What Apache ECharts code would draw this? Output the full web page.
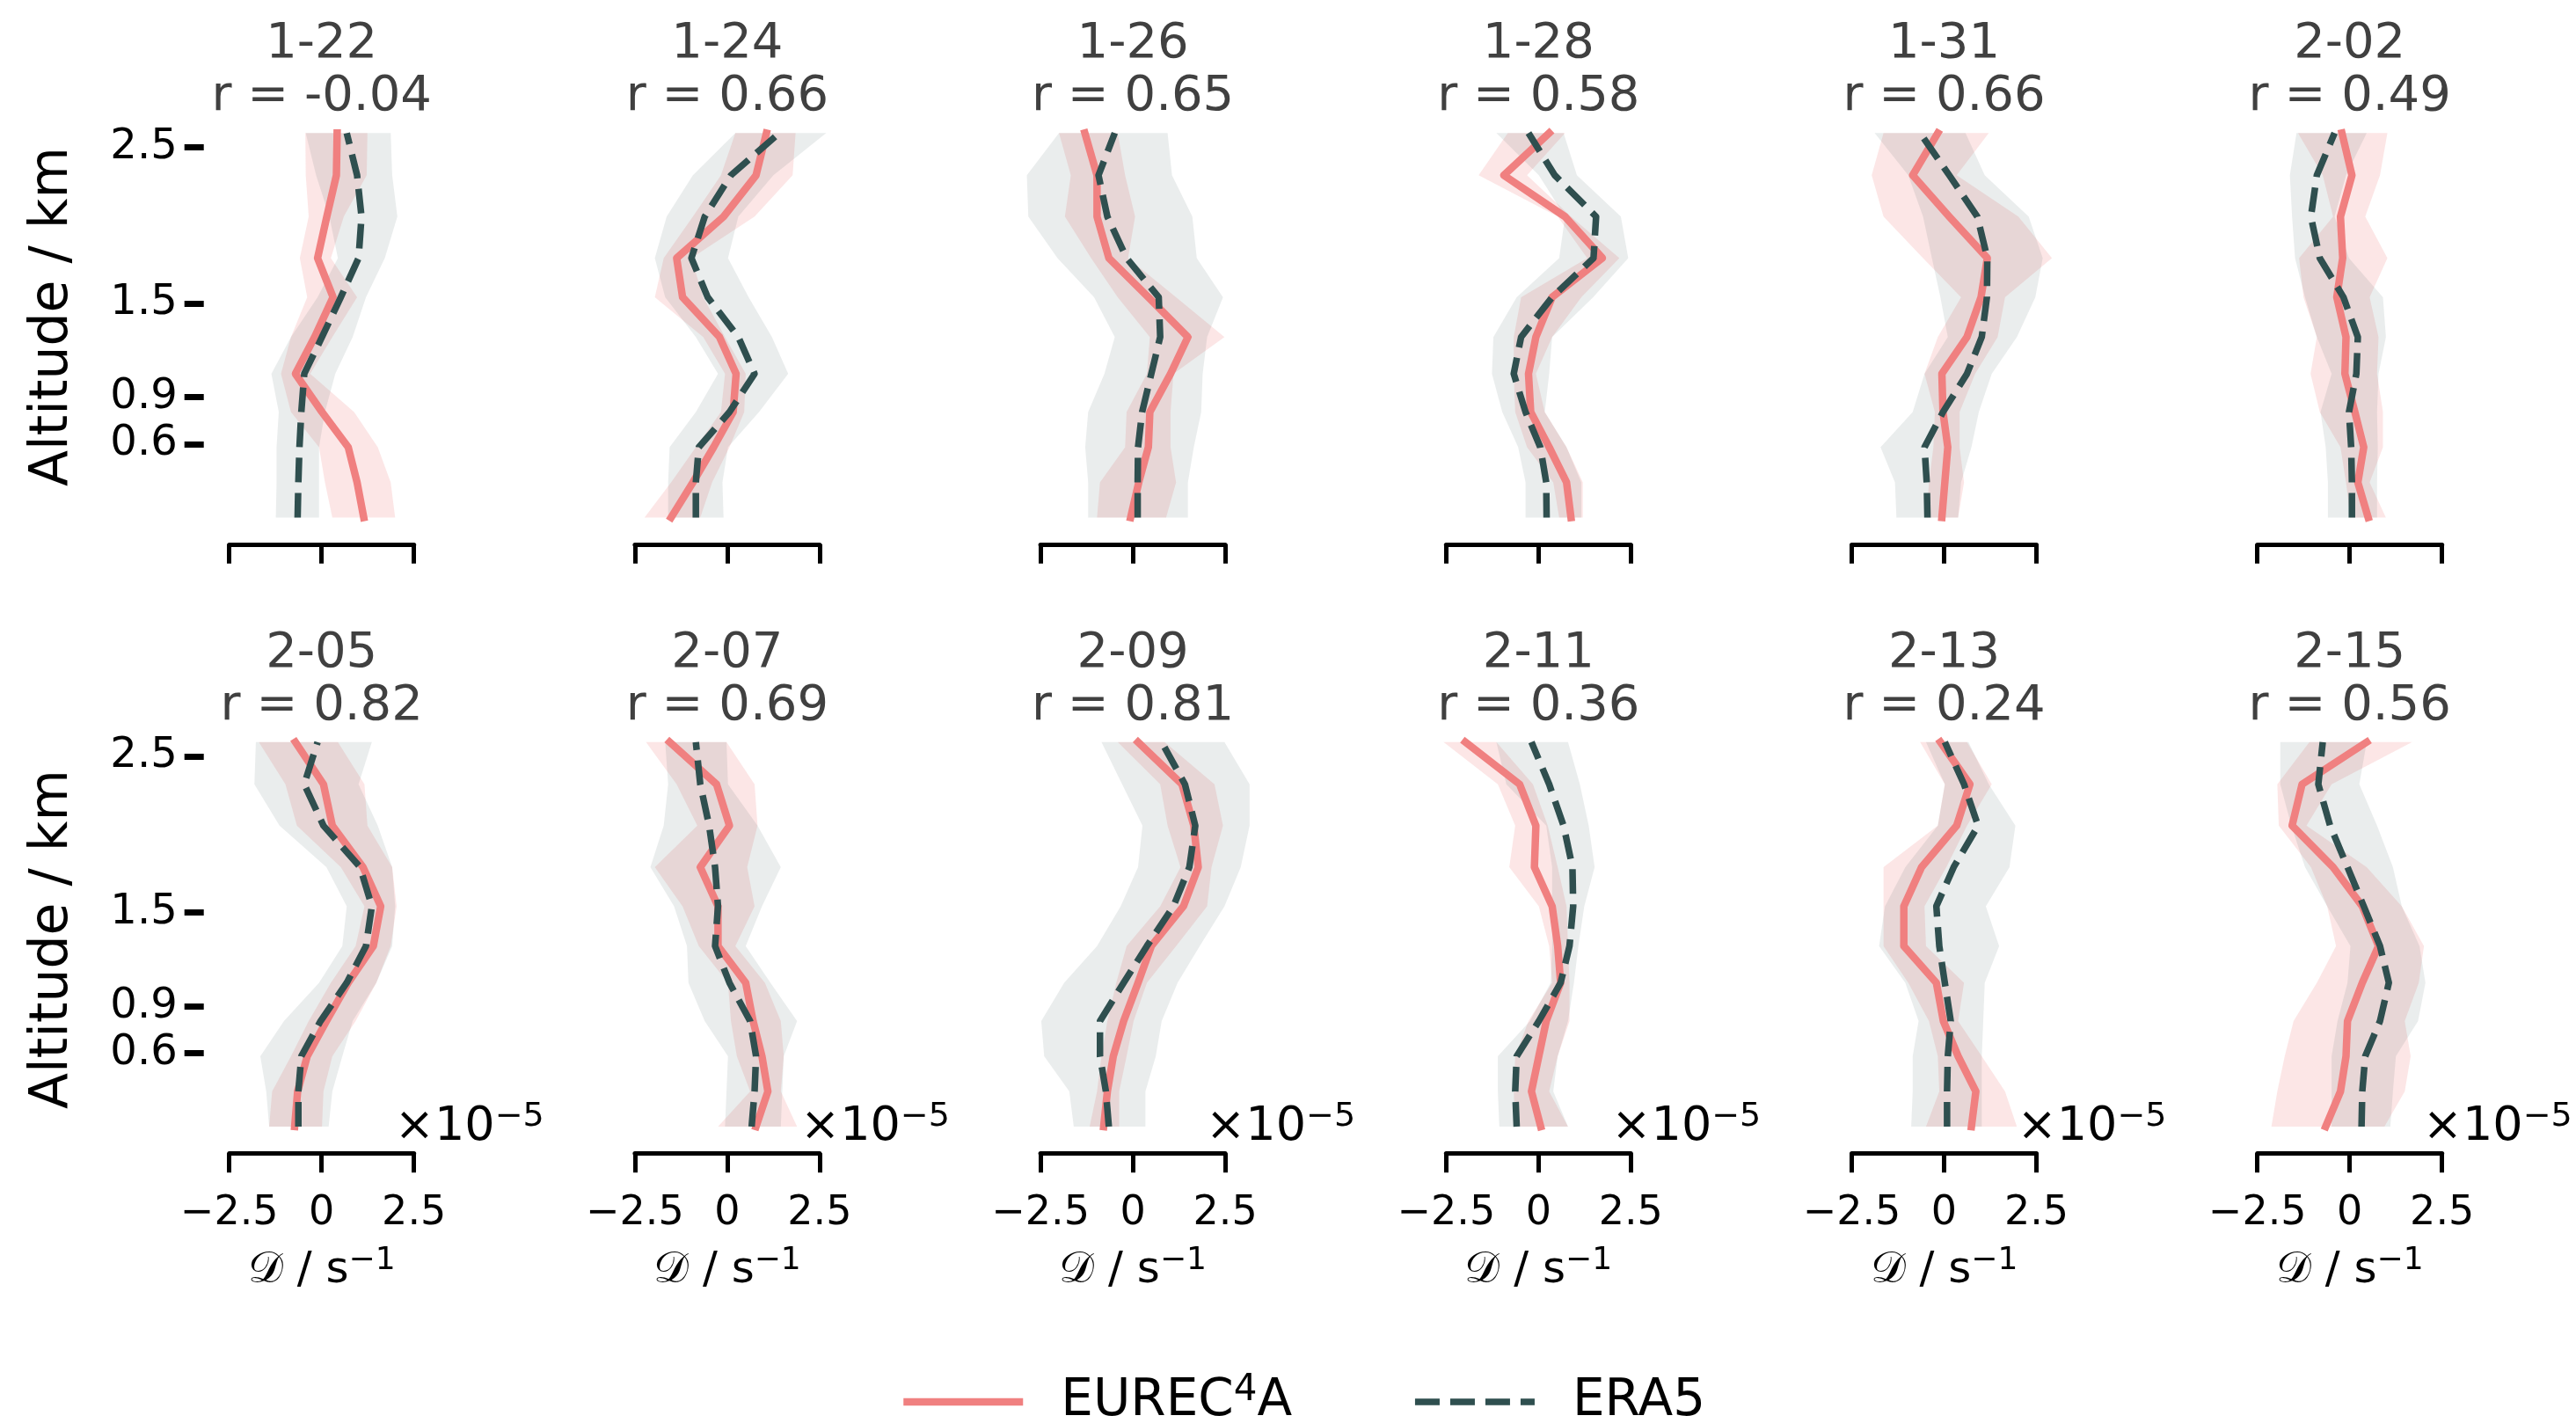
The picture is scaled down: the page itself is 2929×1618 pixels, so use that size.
<!DOCTYPE html>
<html>
<head>
<meta charset="utf-8">
<title>Divergence profiles</title>
<script src="https://cdn.jsdelivr.net/npm/echarts@6.0.0/dist/echarts.min.js"></script>
<style>
  html, body { margin: 0; padding: 0; background: #fff; }
  #chart { width: 2929px; height: 1618px; }
</style>
</head>
<body>
<div id="chart"></div>
<script>
// ---- data -------------------------------------------------------------
const dates = ['1-22', '1-24', '1-26', '1-28', '1-31', '2-02',
               '2-05', '2-07', '2-09', '2-11', '2-13', '2-15'];
const rValues = [-0.04, 0.66, 0.65, 0.58, 0.66, 0.49, 0.82, 0.69, 0.81, 0.36, 0.24, 0.56];

// mean altitude (km) of the profile levels, bottom to top
const altitudes = [0.13, 0.355, 0.58, 0.805, 1.05, 1.285, 1.54, 1.79, 2.055, 2.32, 2.59];

const yTicks = [0.6, 0.9, 1.5, 2.5];
const xTicks = [-2.5, 0, 2.5];

// divergence in units of 1e-5 s^-1, one row per day, bottom to top
const eurecMean = [
  [1.14, 0.96, 0.72, 0.01, -0.71, -0.19, 0.31, -0.11, 0.14, 0.40, 0.42],
  [-1.52, -0.93, -0.37, 0.16, 0.24, -0.21, -1.21, -1.37, -0.10, 0.78, 1.06],
  [-0.06, 0.16, 0.42, 0.46, 1.02, 1.49, 0.42, -0.65, -0.97, -0.97, -1.30],
  [0.88, 0.76, 0.29, -0.21, -0.27, -0.07, 0.37, 1.73, 0.72, -0.94, 0.29],
  [-0.06, 0.02, 0.10, -0.03, -0.06, 0.62, 1.00, 1.17, 0.14, -0.85, -0.17],
  [0.50, 0.22, 0.38, 0.14, -0.13, -0.10, -0.35, -0.19, -0.25, 0.06, -0.21],
  [-0.73, -0.65, -0.39, 0.13, 0.72, 1.40, 1.60, 1.12, 0.29, 0.05, -0.71],
  [0.78, 1.10, 0.94, 0.70, 0.50, -0.25, -0.25, -0.73, 0.06, -0.29, -1.56],
  [-0.79, -0.69, -0.53, -0.25, 0.14, 0.50, 1.37, 1.77, 1.65, 1.33, 0.14],
  [0.06, -0.19, 0.01, 0.21, 0.60, 0.52, 0.37, -0.11, -0.07, -0.51, -1.98],
  [0.74, 0.86, 0.38, -0.02, -0.21, -1.09, -1.09, -0.61, 0.34, 0.70, -0.10],
  [-0.65, -0.25, -0.10, -0.06, 0.34, 0.78, 0.34, -0.45, -1.56, -1.29, 0.46]
];
const eurecLow = [
  [0.29, 0.09, -0.07, -0.83, -1.10, -0.83, -0.39, -0.59, -0.35, -0.43, -0.44],
  [-2.24, -1.52, -0.85, -0.17, -0.06, -0.65, -1.96, -1.72, -0.93, -0.17, 0.22],
  [-0.97, -0.89, -0.21, -0.17, 0.38, 0.46, -0.41, -1.13, -1.84, -1.68, -2.00],
  [0.56, 0.40, -0.31, -0.63, -0.67, -0.67, -0.47, 1.32, 0.52, -1.62, -0.83],
  [-0.47, -0.41, -0.29, -0.25, -0.53, -0.17, 0.46, -0.57, -1.64, -1.96, -1.64],
  [0.02, -0.10, -0.25, -0.81, -1.06, -0.89, -1.25, -1.37, -0.45, -0.73, -1.40],
  [-1.42, -1.34, -0.83, -0.35, 0.25, 0.92, 1.16, 0.52, -0.67, -0.98, -1.70],
  [-0.25, 0.62, 0.26, 0.10, 0.02, -0.77, -1.21, -1.96, -0.81, -1.37, -2.20],
  [-1.17, -0.97, -0.85, -0.69, -0.45, -0.17, 0.74, 1.29, 0.94, 0.74, -0.41],
  [-0.63, -0.67, -0.63, -0.27, 0.37, 0.29, 0.01, -0.79, -0.63, -1.10, -2.57],
  [-0.49, -0.13, -0.17, -0.41, -0.97, -1.64, -1.64, -1.64, -0.17, 0.02, -0.65],
  [-2.12, -1.96, -1.76, -1.52, -0.89, -0.37, -0.61, -1.05, -1.92, -1.96, -1.09]
];
const eurecHigh = [
  [1.99, 1.87, 1.52, 0.88, -0.31, 0.29, 0.96, 0.25, 0.60, 1.22, 1.24],
  [-0.73, -0.41, 0.06, 0.46, 0.50, -0.06, -0.65, -0.97, 0.74, 1.77, 1.85],
  [0.90, 1.17, 1.02, 1.02, 1.10, 2.48, 1.17, -0.13, 0.06, -0.21, -0.41],
  [1.20, 1.20, 0.76, 0.17, -0.07, 0.37, 1.16, 2.19, 0.88, -0.31, 0.72],
  [0.38, 0.54, 0.42, 0.42, 0.84, 1.45, 1.65, 2.92, 2.01, 0.34, 1.21],
  [0.98, 0.54, 0.90, 0.90, 0.74, 0.78, 0.54, 1.02, 0.42, 0.82, 1.02],
  [0.01, 0.05, 0.29, 0.92, 1.48, 1.87, 2.03, 1.91, 1.24, 1.16, 0.44],
  [1.89, 1.45, 1.53, 1.45, 1.02, 0.22, 0.74, 0.54, 0.82, 0.74, -0.02],
  [-0.37, -0.37, -0.17, 0.02, 0.38, 1.17, 2.01, 2.13, 2.44, 2.21, 0.86],
  [0.80, 0.29, 0.52, 0.84, 0.84, 0.80, 0.76, 0.52, 0.25, -0.15, -1.14],
  [1.97, 1.65, 1.02, 0.38, 0.54, -0.49, -0.53, 0.06, 0.62, 1.29, 0.62],
  [0.94, 1.49, 1.65, 1.49, 1.87, 2.01, 1.41, 0.46, -1.17, -0.49, 1.69]
];
const era5Mean = [
  [-0.65, -0.63, -0.60, -0.55, -0.47, 0.01, 0.52, 1.00, 1.08, 0.96, 0.68],
  [-0.85, -0.85, -0.77, 0.06, 0.74, 0.30, -0.53, -0.97, -0.61, 0.10, 1.41],
  [0.13, 0.13, 0.14, 0.25, 0.50, 0.74, 0.70, -0.17, -0.69, -0.93, -0.49],
  [0.22, 0.21, 0.05, -0.35, -0.67, -0.47, 0.37, 1.49, 1.56, 0.44, -0.27],
  [-0.45, -0.47, -0.53, -0.03, 0.62, 1.02, 1.16, 1.17, 0.90, 0.14, -0.65],
  [0.06, 0.06, 0.04, -0.02, 0.18, 0.22, -0.17, -0.81, -1.05, -0.89, -0.41],
  [-0.63, -0.63, -0.55, -0.03, 0.68, 1.20, 1.36, 1.04, 0.05, -0.47, -0.11],
  [0.66, 0.74, 0.78, 0.62, 0.06, -0.33, -0.25, -0.33, -0.49, -0.73, -0.85],
  [-0.65, -0.73, -0.89, -0.89, -0.25, 0.38, 1.10, 1.53, 1.69, 1.41, 0.78],
  [-0.59, -0.63, -0.59, 0.01, 0.60, 0.84, 0.94, 0.92, 0.68, 0.29, -0.19],
  [0.08, 0.08, 0.10, 0.18, 0.02, -0.13, -0.21, 0.26, 0.92, 0.54, 0.02],
  [0.32, 0.34, 0.42, 0.82, 1.06, 0.82, 0.38, -0.06, -0.53, -0.85, -0.73]
];
const era5Low = [
  [-1.24, -1.22, -1.22, -1.16, -1.36, -0.83, -0.11, 0.44, 0.21, -0.15, -0.43],
  [-1.60, -1.60, -1.56, -0.85, -0.25, -0.85, -1.68, -1.96, -1.64, -0.93, 0.22],
  [-1.21, -1.21, -1.29, -1.21, -0.77, -0.49, -1.05, -2.04, -2.83, -2.87, -2.00],
  [-0.35, -0.35, -0.55, -0.98, -1.26, -1.22, -0.59, 0.56, 0.72, 0.01, -1.14],
  [-1.29, -1.33, -1.72, -0.85, -0.53, 0.10, -0.10, -0.33, -0.57, -0.97, -1.88],
  [-0.59, -0.59, -0.65, -0.79, -0.49, -0.89, -1.21, -1.48, -1.56, -1.62, -1.44],
  [-1.42, -1.50, -1.66, -1.02, -0.07, 0.56, 0.68, 0.13, -1.14, -1.82, -1.78],
  [-0.06, -0.02, 0.02, -0.61, -1.05, -1.09, -1.44, -2.08, -1.72, -1.60, -1.68],
  [-1.60, -1.72, -2.40, -2.48, -1.86, -0.97, -0.33, 0.14, 0.26, -0.29, -0.85],
  [-1.06, -1.10, -1.10, -0.23, 0.33, 0.37, 0.37, 0.37, 0.21, -0.87, -1.14],
  [-0.89, -0.85, -0.85, -0.69, -1.05, -1.76, -1.60, -1.05, -0.17, 0.02, -0.49],
  [-0.49, -0.49, -0.49, -0.33, -0.06, 0.02, -0.61, -1.21, -1.58, -1.88, -1.88]
];
const era5High = [
  [-0.07, -0.07, -0.07, 0.09, 0.37, 0.84, 1.20, 1.71, 2.05, 1.91, 1.87],
  [-0.10, -0.13, 0.02, 0.86, 1.65, 1.21, 0.58, 0.02, 0.30, 1.25, 2.68],
  [1.49, 1.49, 1.65, 1.85, 1.89, 2.01, 2.44, 1.73, 1.61, 1.06, 0.94],
  [1.16, 1.16, 0.76, 0.17, 0.29, 0.37, 1.48, 2.43, 2.23, 1.04, 0.68],
  [0.38, 0.46, 0.74, 0.94, 1.29, 1.97, 2.47, 2.67, 2.29, 1.10, 0.58],
  [0.74, 0.74, 0.76, 0.74, 0.78, 0.98, 0.90, -0.02, -0.41, -0.10, 0.46],
  [0.19, 0.29, 0.56, 0.84, 1.48, 1.91, 1.99, 1.91, 1.52, 1.00, 1.36],
  [1.45, 1.49, 1.53, 1.89, 1.17, 0.50, 0.94, 1.45, 0.82, 0.02, -0.02],
  [0.34, 0.34, 0.62, 0.78, 1.21, 1.81, 2.48, 2.92, 3.16, 3.16, 2.48],
  [0.80, 0.40, 0.52, 0.80, 0.96, 1.08, 1.24, 1.52, 1.36, 1.12, 0.80],
  [1.02, 1.02, 1.02, 1.06, 1.10, 1.49, 1.13, 1.77, 1.93, 1.21, 0.66],
  [1.10, 1.17, 1.25, 1.85, 2.05, 1.89, 1.41, 1.17, 0.74, 0.26, 0.46]
];

// ---- styling / layout ---------------------------------------------------
const FONT = 'DejaVu Sans';
const RED = '#f08080';
const DARK = '#2f4f4f';
const RED_FILL = 'rgba(240,128,128,0.2)';
const DARK_FILL = 'rgba(47,79,79,0.1)';
const NAME_EURO = 'EUREC\u2074A';
const NAME_ERA = 'ERA5';
const MINUS = '\u2212';
const RED_WIDTH = 8.5, DARK_WIDTH = 7.5, DASH = [28, 12];

const COLS = 6;
const colX0 = 365.7, colStep = 461.2, halfW = 105;
const rowTop = [149.5, 842];
const gridH = 444.3;
const yLabelCenter = [360, 1068];
const Y_MIN = 0.1, Y_MAX = 2.6;
const X_MIN = -2.5, X_MAX = 2.5;

const fmtTick = (v, digits) => (v === 0 ? '0' : (v < 0 ? MINUS : '') + Math.abs(v).toFixed(digits));

const grids = [], xAxes = [], yAxes = [], series = [], graphics = [];

function bandSeries(i, lo, hi, fill) {
  return {
    type: 'custom', xAxisIndex: i, yAxisIndex: i, z: 1, silent: true, clip: false,
    data: altitudes.map((a, k) => [lo[k], hi[k], a]),
    encode: { x: [0, 1], y: 2 },
    renderItem(params, api) {
      if (params.dataIndex !== 0) return null;
      const pts = [];
      for (let k = 0; k < altitudes.length; k++) pts.push(api.coord([lo[k], altitudes[k]]));
      for (let k = altitudes.length - 1; k >= 0; k--) pts.push(api.coord([hi[k], altitudes[k]]));
      return { type: 'polygon', shape: { points: pts }, style: { fill: fill } };
    }
  };
}

function lineSeries(i, name, vals, color, dashed, z) {
  return {
    type: 'line', name: name, xAxisIndex: i, yAxisIndex: i, z: z,
    symbol: 'none', clip: false, silent: true,
    data: altitudes.map((a, k) => [vals[k], a]),
    lineStyle: {
      color: color, width: dashed ? DARK_WIDTH : RED_WIDTH, join: 'round',
      cap: dashed ? 'butt' : 'square',
      type: dashed ? DASH : 'solid'
    },
    itemStyle: { color: color }
  };
}

// superscript helpers for rich text
const supRich = (size, supSize, lh) => ({
  n: { fontSize: size, fontFamily: FONT, color: '#000', lineHeight: lh, verticalAlign: 'middle' },
  s: { fontSize: supSize, fontFamily: FONT, color: '#000', lineHeight: supSize, verticalAlign: 'top' }
});

for (let i = 0; i < dates.length; i++) {
  const row = Math.floor(i / COLS), col = i % COLS;
  const cx = colX0 + col * colStep;
  grids.push({ left: cx - halfW, width: 2 * halfW, top: rowTop[row], height: gridH });

  xAxes.push({
    gridIndex: i, type: 'value', min: X_MIN, max: X_MAX, interval: 2.5, offset: 25,
    axisLine: { show: true, onZero: false, lineStyle: { color: '#000', width: 5 } },
    axisTick: { show: true, length: 22, lineStyle: { color: '#000', width: 5 } },
    axisLabel: {
      show: row === 1, margin: 46, fontSize: 46, color: '#000', fontFamily: FONT,
      formatter: v => fmtTick(v, 1)
    },
    splitLine: { show: false },
    name: row === 1 ? '{n|\uD835\uDC9F / s}{s|' + MINUS + '1}' : '',
    nameLocation: 'middle', nameGap: 104,
    nameTextStyle: { fontSize: 50, color: '#000', fontFamily: FONT, rich: supRich(50, 36, 60) }
  });

  yAxes.push({
    gridIndex: i, type: 'value', min: Y_MIN, max: Y_MAX, show: col === 0, offset: 29,
    axisLine: { show: false, onZero: false },
    axisTick: { show: true, customValues: yTicks, length: 22, lineStyle: { color: '#000', width: 7 } },
    axisLabel: {
      show: true, customValues: yTicks, margin: 30, fontSize: 48, color: '#000', fontFamily: FONT,
      formatter: v => fmtTick(v, 1)
    },
    splitLine: { show: false }
  });

  series.push(bandSeries(i, eurecLow[i], eurecHigh[i], RED_FILL));
  series.push(bandSeries(i, era5Low[i], era5High[i], DARK_FILL));
  series.push(lineSeries(i, NAME_EURO, eurecMean[i], RED, false, 2));
  series.push(lineSeries(i, NAME_ERA, era5Mean[i], DARK, true, 3));

  // panel title: date and correlation
  graphics.push({
    type: 'text', x: cx, y: rowTop[row] - 129,
    style: {
      text: dates[i] + '\nr = ' + rValues[i].toFixed(2),
      font: '56px "' + FONT + '"', fill: '#404040',
      align: 'center', verticalAlign: 'top', lineHeight: 60
    }
  });

  // scale factor of the divergence axis
  if (row === 1) {
    graphics.push({
      type: 'text', x: cx + 83, y: rowTop[row] + gridH - 4,
      style: {
        text: '{n|\u00D710}{s|' + MINUS + '5}',
        rich: supRich(54, 38, 62),
        align: 'left', verticalAlign: 'middle'
      }
    });
  }
}

for (let row = 0; row < 2; row++) {
  graphics.push({
    type: 'text', x: 60, y: yLabelCenter[row], rotation: Math.PI / 2,
    style: {
      text: 'Altitude / km', font: '60px "' + FONT + '"', fill: '#000',
      align: 'center', verticalAlign: 'middle'
    }
  });
}

const chart = echarts.init(document.getElementById('chart'), null, { renderer: 'canvas' });
chart.setOption({
  animation: false,
  backgroundColor: '#fff',
  grid: grids,
  xAxis: xAxes,
  yAxis: yAxes,
  series: series,
  graphic: graphics,
  legend: {
    data: [
      { name: NAME_EURO, itemStyle: { opacity: 0 },
        lineStyle: { color: RED, width: RED_WIDTH, type: 'solid', cap: 'butt' } },
      { name: NAME_ERA, itemStyle: { opacity: 0 },
        lineStyle: { color: DARK, width: DARK_WIDTH, type: DASH, cap: 'butt' } }
    ],
    top: 1555, left: 1018,
    itemWidth: 136, itemHeight: 14, itemGap: 136,
    formatter: name => (name === NAME_EURO ? '{n|EUREC}{s|4}{n|A}' : '{n|' + name + '}'),
    textStyle: {
      fontSize: 58, color: '#000', fontFamily: FONT, padding: [0, 0, 0, 38],
      rich: supRich(58, 42, 68)
    }
  }
});
</script>
</body>
</html>
